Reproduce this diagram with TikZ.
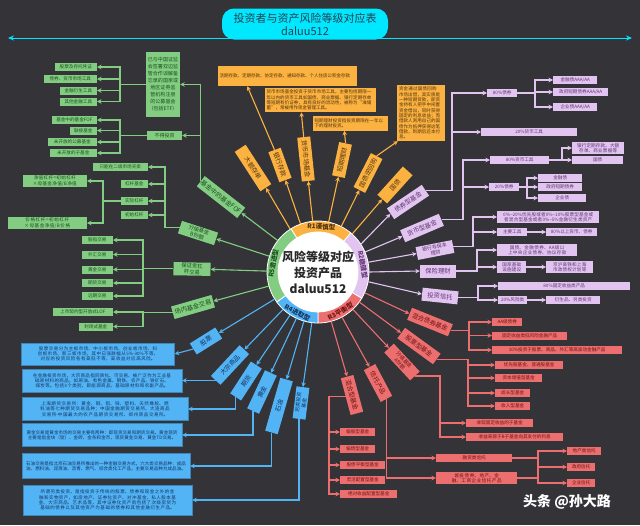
\documentclass[tikz,border=0pt]{standalone}
\usepackage{fontspec}
\setmainfont{Noto Sans CJK SC}
\XeTeXlinebreaklocale "zh"
\XeTeXlinebreakskip=0pt plus 0.3pt
\usetikzlibrary{positioning, arrows.meta}

\definecolor{bgc}{RGB}{51,51,56}
\definecolor{cyanc}{RGB}{0,232,255}
\definecolor{titletx}{RGB}{40,62,82}
\definecolor{hubtx}{RGB}{40,40,40}
\definecolor{oc}{RGB}{251,178,64}
\definecolor{otx}{RGB}{80,50,15}
\definecolor{pc}{RGB}{226,196,240}
\definecolor{ptx}{RGB}{95,55,115}
\definecolor{rc}{RGB}{236,110,110}
\definecolor{rtx}{RGB}{110,20,20}
\definecolor{kc}{RGB}{82,180,245}
\definecolor{ktx}{RGB}{20,50,95}
\definecolor{gc}{RGB}{130,205,130}
\definecolor{gtx}{RGB}{30,80,30}

\begin{document}
\begin{tikzpicture}[x=1pt, y=-1pt,
    lnk/.style={line width=1.1pt, -{Stealth[length=4.5pt, width=4.5pt]}},
    plain/.style={line width=1.1pt},
    spoke/.style={rectangle, inner sep=1pt, minimum height=13pt, align=center,
      font=\fontsize{6.3}{7}\selectfont},
    leaf/.style={rectangle, inner sep=1pt, minimum height=8pt, align=center,
      font=\fontsize{4.6}{5.4}\selectfont},
    note/.style={rectangle, inner sep=2pt, align=left,
      font=\fontsize{4.5}{5.3}\selectfont},
    ringlab/.style={font=\bfseries\fontsize{6.5}{7}\selectfont, inner sep=0pt},
    obox/.style={spoke, fill=oc, text=otx},
    onote/.style={note, fill=oc, text=otx},
    pbox/.style={spoke, fill=pc, text=ptx},
    pleaf/.style={leaf, fill=pc, text=ptx},
    rbox/.style={spoke, fill=rc, text=rtx},
    rleaf/.style={leaf, fill=rc, text=rtx},
    kbox/.style={spoke, fill=kc, text=ktx},
    knote/.style={note, fill=kc, draw=kc!75!black, line width=0.4pt, text=ktx, align=center},
    gbox/.style={spoke, fill=gc, text=gtx},
    gleaf/.style={leaf, fill=gc, text=gtx}
  ]
  \fill[bgc] (0,0) rectangle (640,525);
  \useasboundingbox (0,0) rectangle (640,525);

  % title
  \coordinate (tl) at (8,38);
  \coordinate (tr) at (632,38);
  \draw[line width=1pt, cyanc, {Stealth[length=6pt, width=5pt]}-{Stealth[length=6pt, width=5pt]}] (tl) -- (tr);
  \node[fill=cyanc, rounded corners=12pt, minimum width=166pt, minimum height=31pt, align=center,
    text=titletx, font=\fontsize{11}{13}\selectfont] (title) at (305,24) {投资者与资产风险等级对应表\\daluu512};

  % hub
  \begin{scope}[shift={(318,272)}, y=1pt]
    \foreach \a/\b/\c in {50/122/oc, -31/50/pc, -90/-31/rc, -144/-90/kc, 122/216/gc}
      \filldraw[fill=\c, draw=white, line width=0.8pt] (\a:40) -- (\a:51)
        arc[start angle=\a, end angle=\b, radius=51] -- (\b:40)
        arc[start angle=\b, end angle=\a, radius=40] -- cycle;
    \fill[white] (0,0) circle[radius=40];
    \node[ringlab, text=otx, rotate=-4] (lab1) at (86:45.5) {R1谨慎型};
    \node[ringlab, text=ptx, rotate=-80] (lab2) at (9.5:45.5) {R2稳健型};
    \node[ringlab, text=rtx, rotate=30] (lab3) at (-60.5:45.5) {R3平衡型};
    \node[ringlab, text=ktx, rotate=-27] (lab4) at (-117:45.5) {R4进取型};
    \node[ringlab, text=gtx, rotate=79] (lab5) at (169:45.5) {R5激进型};
  \end{scope}
  \node[circle, minimum size=102pt, inner sep=0pt] (hub) at (318,272) {};
  \node[align=center, inner sep=0pt, text=hubtx,
    font=\bfseries\fontsize{12}{16}\selectfont] (hubtext) at (318,272) {风险等级对应\\投资产品\\daluu512};

  % R1
  \node[obox, minimum width=47pt, rotate=-57] (o1) at (253,168) {大额存单};
  \node[obox, minimum width=32pt, rotate=-70] (o2) at (280,165) {银行存款};
  \node[obox, minimum width=44pt, rotate=-84] (o3) at (306,159) {货币市场基金};
  \node[obox, minimum width=34pt, rotate=78] (o4) at (342,160) {短期理财};
  \node[obox, minimum width=38pt, rotate=63] (o5) at (368,173) {国债逆回购};
  \node[obox, minimum width=38pt, rotate=48] (o6) at (395,185) {国债};
  \foreach \n/\a in {o1/123, o2/110, o3/96}
    \draw[lnk, oc] (hub.\a) -- (\n.east);
  \foreach \n/\a in {o4/78, o5/63, o6/48}
    \draw[lnk, oc] (hub.\a) -- (\n.west);

  \node[onote, text width=135pt, minimum height=20pt] (od1) at (287,76) {活期存款、定期存款、协定存款、通知存款、个人住房公积金存款};
  \node[onote, text width=107pt] (od2) at (320,100) {货币市场基金投资于货币市场工具，主要包括期限一年以内的货币工具如国债、商业票据、银行定期存单等短期有价证券，具有良好的流动性，被称为“准储蓄”，常被用作现金管理工具。};
  \node[onote, text width=71pt, minimum height=15pt] (od3) at (350,123) {短期理财投资指投资期限在一年以下的理财投资。};
  \node[onote, text width=44pt] (od4) at (421,113) {资金通过国债回购市场出借，其实质是一种短期贷款，即资金持有人把手中闲置资金借出，同时获得固定的利息收益；而借款人则用自己的国债作为抵押获得这笔借款，到期后还本付息。};
  \draw[lnk, oc] (o2.west) -- ([xshift=30pt]od1.south west);
  \draw[lnk, oc] (o3.west) -- ([xshift=37pt]od2.south west);
  \draw[lnk, oc] (o4.east) -- ([xshift=32pt]od3.south west);
  \draw[lnk, oc] (o5.east) -- ([xshift=1pt]od4.south west);

  % R2
  \node[pbox, minimum width=42pt, rotate=34] (p1) at (408,202) {债券型基金};
  \node[pbox, minimum width=42pt, rotate=23] (p2) at (422,228) {货币型基金};
  \node[pbox, minimum width=37pt, rotate=11, font=\fontsize{5}{6}\selectfont] (p3) at (435,250) {银行非保本\\理财};
  \node[pbox, minimum width=36pt] (p4) at (438,271) {保险理财};
  \node[pbox, minimum width=36pt, rotate=-6] (p5) at (440,296) {投资信托};
  \foreach \n/\a in {p1/33, p2/23, p3/11, p4/0, p5/-11}
    \draw[lnk, pc] (hub.\a) -- (\n.west);

  \coordinate (pv1) at (452,0);
  \node[pleaf, anchor=west, minimum width=30pt] (pa) at (487,93) {80\%债券};
  \node[pleaf, anchor=west, minimum width=96pt] (pb) at (481,132) {20\%货币工具};
  \draw[lnk, pc] (p1.east) -- (p1.east -| pv1) |- (pa.west);
  \draw[lnk, pc] (p1.east) -- (p1.east -| pv1) |- (pb.west);
  \coordinate (pv2) at (535,0);
  \node[pleaf, anchor=west, minimum width=44pt] (pa1) at (553,80) {金融债AAA/AA};
  \node[pleaf, anchor=west, minimum width=55pt] (pa2) at (553,92) {政府短期债券AAA/AA};
  \node[pleaf, anchor=west, minimum width=44pt] (pa3) at (553,107) {企业债AAA/AA};
  \foreach \i in {1,2,3}
    \draw[lnk, pc] (pa.east) -- (pa.east -| pv2) |- (pa\i.west);

  \coordinate (pv3) at (463,0);
  \node[pleaf, anchor=west, minimum width=59pt] (pc1) at (490,160) {80\%货币工具};
  \node[pleaf, anchor=west, minimum width=30pt] (pc2) at (489,187) {20\%债券};
  \foreach \i in {1,2}
    \draw[lnk, pc] (p2.east) -- (p2.east -| pv3) |- (pc\i.west);
  \coordinate (pv4) at (562,0);
  \node[pleaf, anchor=west, text width=50pt] (pc11) at (572,148) {银行定期存款、大额存单、商业票据等};
  \node[pleaf, anchor=west, minimum width=51pt] (pc12) at (572,160) {国债};
  \foreach \i in {1,2}
    \draw[lnk, pc] (pc1.east) -- (pc1.east -| pv4) |- (pc1\i.west);
  \coordinate (pv5) at (527,0);
  \foreach \txt/\y/\w [count=\i] in {金融债/178/44, 政府短期债券/187/44, 企业债/198/48} {
    \node[pleaf, anchor=west, minimum width=\w pt] (pc2\i) at (538,\y) {\txt};
    \draw[lnk, pc] (pc2.east) -- (pc2.east -| pv5) |- (pc2\i.west);
  }

  \coordinate (pv6) at (473,0);
  \node[pleaf, anchor=west, text width=100pt] (pd1) at (497,217) {0\%{\textasciitilde}20\%优先股或者0\%{\textasciitilde}10\%股票型基金或者混合型基金或者0\%{\textasciitilde}5\%金融衍生类资产};
  \node[pleaf, anchor=west, minimum width=30pt] (pd2) at (497,232) {主要工具};
  \node[pleaf, anchor=west, minimum width=51pt] (pd3) at (546,232) {80\%以上货币、债券};
  \foreach \n in {pd1, pd2}
    \draw[lnk, pc] (p3.east) -- (p3.east -| pv6) |- (\n.west);
  \draw[lnk, pc] (pd2) -- (pd3);

  \coordinate (pv7) at (477,0);
  \node[pleaf, anchor=west, text width=78pt] (pe1) at (497,250) {国债、金融债券、AA级以上中央企业债券、协议存款};
  \node[pleaf, anchor=west, text width=27pt] (pe2) at (497,267) {国家基础设施建设};
  \node[pleaf, anchor=west, text width=45pt] (pe3) at (546,267) {京沪高铁和上海市政债权计划等};
  \foreach \n in {pe1, pe2}
    \draw[lnk, pc] (p4.east) -- (p4.east -| pv7) |- (\n.west);
  \draw[lnk, pc] (pe2) -- (pe3);

  \coordinate (pv8) at (478,0);
  \node[pleaf, anchor=west, minimum width=132pt] (pf1) at (498,286) {80\%固定收益类产品};
  \node[pleaf, anchor=west, minimum width=29pt] (pf2) at (498,300) {20\%风险类};
  \node[pleaf, anchor=west, minimum width=54pt] (pf3) at (546,300) {衍生品、另类投资};
  \foreach \n in {pf1, pf2}
    \draw[lnk, pc] (p5.east) -- (p5.east -| pv8) |- (\n.west);
  \draw[lnk, pc] (pf2) -- (pf3);

  % R3
  \node[rbox, minimum width=44pt, rotate=-22] (r1) at (430,322) {混合债券基金};
  \node[rbox, minimum width=44pt, rotate=-36] (r2) at (419,346) {股票型基金};
  \node[rbox, minimum width=38pt, rotate=-47, font=\fontsize{5}{6}\selectfont] (r3) at (402,362) {分级基金\\A份额};
  \node[rbox, minimum width=36pt, rotate=-62] (r4) at (378,383) {信托产品};
  \node[rbox, minimum width=38pt, rotate=-75] (r5) at (352,395) {混合型基金};
  \foreach \n/\a in {r1/-24, r2/-36, r3/-47, r4/-62, r5/-75}
    \draw[lnk, rc] (hub.\a) -- (\n.west);

  \coordinate (rv1) at (469,0);
  \foreach \txt/\y/\w [count=\i] in {AA级债券/322/30, 固定收益类低风险金融产品/335.5/75, 10\%投资于股票、商品、外汇等高波动金融产品/350/130} {
    \node[rleaf, anchor=west, minimum width=\w pt] (ra\i) at (492,\y) {\txt};
    \draw[lnk, rc] (r1.east) -- (r1.east -| rv1) |- (ra\i.west);
  }
  \coordinate (rv2) at (468,0);
  \foreach \txt/\y/\w [count=\i] in {优先股基金、普通股基金/365/68, 资本增值型基金/378/47, 成长型基金/393/35, 收入型基金/406/35} {
    \node[rleaf, anchor=west, minimum width=\w pt] (rb\i) at (495,\y) {\txt};
    \draw[lnk, rc] (r2.east) -- (r2.east -| rv2) |- (rb\i.west);
  }
  \coordinate (rv3) at (440,0);
  \foreach \txt/\y/\w [count=\i] in {收取固定收益的子基金/423/67, 收益来源于B子基金向其支付的利息/437/97} {
    \node[rleaf, anchor=west, minimum width=\w pt] (rc\i) at (466,\y) {\txt};
    \draw[lnk, rc] (r3.east) -- (r3.east -| rv3) |- (rc\i.west);
  }
  \node[rleaf, anchor=west, minimum width=76pt] (rd1) at (436,458) {融资类信托};
  \node[rleaf, anchor=west, text width=79pt] (rd2) at (436,478) {城投债券、地产、金融、工商企业信托产品};
  \foreach \n in {rd1, rd2}
    \draw[lnk, rc] (r4.east) |- (\n.west);
  \coordinate (rv4) at (538,0);
  \draw[plain, rc] (rd2.east) -- (rd2.east -| rv4);
  \foreach \txt/\y/\w [count=\i] in {地产类信托/451/34, 政府信托/467/28, 企业信托/483/28} {
    \node[rleaf, anchor=west, minimum width=\w pt] (re\i) at (567,\y) {\txt};
    \draw[lnk, rc] (rd1.east) -- (rd1.east -| rv4) |- (re\i.west);
  }
  \coordinate (rv5) at (329,0);
  \foreach \txt/\y/\w [count=\i] in {偏股型基金/432/35, 偏债型基金/449/35, 股债平衡型基金/465/45, 灵活配置型基金/480/45, 绝对收益配置型基金/494/57} {
    \node[rleaf, anchor=west, minimum width=\w pt] (rf\i) at (340,\y) {\txt};
    \draw[lnk, rc] (r5.south) -- (r5.south -| rv5) |- (rf\i.west);
  }

  % R4
  \node[kbox, minimum width=30pt, rotate=32] (k1) at (206,341) {股票};
  \node[kbox, minimum width=42pt, rotate=47] (k2) at (230,365) {大宗商品};
  \node[kbox, minimum width=38pt, rotate=57] (k3) at (246,381) {期货};
  \node[kbox, minimum width=42pt, rotate=65] (k4) at (262,392) {黄金};
  \node[kbox, minimum width=55pt, rotate=74] (k5) at (279,406) {石油};
  \node[kbox, minimum width=32pt, rotate=83, font=\fontsize{5}{6}\selectfont] (k6) at (301,403) {另类投资\\基金};
  \foreach \n/\a in {k1/212, k2/227, k3/237, k4/245, k5/254, k6/263}
    \draw[lnk, kc] (hub.\a) -- (\n.east);

  \node[knote, text width=149pt, minimum height=22pt] (kd1) at (98,354) {股票交易分为主板市场、中小板市场、创业板市场、科创板市场、新三板市场，其中日涨跌幅从5\%-30\%不等，对应的投资风险各有高低不等，高收益对应高风险。};
  \node[knote, text width=156pt, minimum height=23pt] (kd2) at (102,381) {在金融投资市场，大宗商品指同质化、可交易、被广泛作为工业基础原材料的商品，如原油、有色金属、钢铁、农产品、铁矿石、煤炭等。包括3个类别，即能源商品、基础原材料和农副产品。};
  \node[knote, text width=162pt, minimum height=23pt] (kd3) at (105,409) {上海期货交易所：黄金、铜、铝、锌、塑料、天然橡胶、燃料油等七种期货交易品种；中国金融期货交易所、大连商品交易所-中国最大的农产品期货交易所、郑州商品交易所。};
  \node[knote, text width=156pt, minimum height=23pt] (kd4) at (102,435) {黄金交易是黄金市场的交易主要有两种：即现货交易和期货交易。黄金现货主要是指金块（锭）、金砖、金条和金币，现货黄金交易、黄金TD交易。};
  \node[knote, text width=164pt, minimum height=25pt] (kd5) at (106,466) {石油交易是指北京石油交易所推出的一种金融交易方式，六大类交易品种：成品油、燃料油、润滑油、沥青、燃气、综合类化工产品，主要交易品种为成品油。};
  \node[knote, text width=165pt, minimum height=30pt] (kd6) at (107.5,500) {所谓另类投资，是指投资于传统的股票、债券和现金之外的金融和实物资产，如房地产、证券化资产、对冲基金、私人股本基金、大宗商品、艺术品等，其中证券化资产就包括了次级房贷为基础的债券以及其他资产为基础的债券和其他金融衍生产品。};
  \draw[lnk, kc] (k1.west) -- (kd1.east);
  \draw[lnk, kc] (k2.west) -- (k2.west -| kd2.east);
  \foreach \i in {3,4,5,6}
    \draw[lnk, kc] (k\i.west) |- (kd\i.east);

  % R5
  \node[gbox, minimum width=50pt, rotate=-38] (g1) at (221,197) {基金中的基金FOF};
  \node[gbox, minimum width=38pt, rotate=-18, font=\fontsize{5.3}{6.2}\selectfont] (g2) at (198,233) {分级基金\\B份额};
  \node[gbox, minimum width=37pt, rotate=-1, font=\fontsize{5.3}{6.2}\selectfont] (g3) at (192,269) {保证金杠\\杆交易};
  \node[gbox, minimum width=42pt, rotate=16] (g4) at (193,307) {场内基金交易};
  \foreach \n/\a in {g1/142, g2/162, g3/179, g4/196}
    \draw[lnk, gc] (hub.\a) -- (\n.east);

  \node[gleaf, text width=32pt, minimum height=65pt, font=\fontsize{5}{7}\selectfont] (qdii) at (163,84.5) {已与中国证监会签署双边监管合作谅解备忘录的国家或地区证券监管机构注册的公募基金（包括ETF）};
  \node[gleaf, minimum width=35pt, minimum height=9pt, font=\fontsize{5}{6}\selectfont] (nobuy) at (164.5,135.5) {不得投资};
  \draw[lnk, gc] (g1.west) |- (qdii.east);
  \draw[lnk, gc] (g1.west) |- (nobuy.east);
  \coordinate (gv1) at (120,0);
  \foreach \txt/\y/\w [count=\i] in {股票及存托凭证/67/42, 债券、货币市场工具/79/53, 金融衍生工具/90.5/37, 其他金融工具/101.5/37} {
    \node[gleaf, anchor=east, minimum width=\w pt] (qa\i) at (97,\y) {\txt};
    \draw[lnk, gc] (qdii.west) -- (qdii.west -| gv1) |- (qa\i.east);
  }
  \foreach \txt/\y/\w [count=\i] in {基金中的基金FOF/120/45, 联接基金/130.5/27, 未开放的公募基金/142/49, 未开放的子基金/153/47} {
    \node[gleaf, anchor=east, minimum width=\w pt] (qb\i) at (97,\y) {\txt};
    \draw[lnk, gc] (nobuy.west) -- (nobuy.west -| gv1) |- (qb\i.east);
  }

  \coordinate (gv2) at (165,0);
  \foreach \txt/\y/\w [count=\i] in {只能在二级市场买卖/167/55, 杠杆基金/184/27, 实际杠杆/201/27, 初始杠杆/215/27} {
    \node[gleaf, anchor=east, minimum width=\w pt] (gb\i) at (148,\y) {\txt};
    \draw[lnk, gc] (g2.west) -- (g2.west -| gv2) |- (gb\i.east);
  }
  \coordinate (gv3) at (103,0);
  \node[gleaf, anchor=east, text width=62pt] (gc1) at (87,181) {净值杠杆=初始杠杆×母基金净值/B净值};
  \node[gleaf, anchor=east, text width=77pt] (gc2) at (87,223) {价格杠杆=初始杠杆×母基金净值/B价格};
  \foreach \i in {1,2}
    \draw[lnk, gc] (gb3.west) -- (gb3.west -| gv3) |- (gc\i.east);

  \coordinate (gv4) at (143,0);
  \foreach \txt/\y [count=\i] in {股指交易/240, 外汇交易/254.5, 黄金交易/269.5, 期货交易/283, 远期交易/296} {
    \node[gleaf, anchor=east, minimum width=31pt] (gd\i) at (113,\y) {\txt};
    \draw[lnk, gc] (g3.west) -- (g3.west -| gv4) |- (gd\i.east);
  }
  \foreach \txt/\y/\w [count=\i] in {上市契约型开放式LOF/312/60, 封闭式基金/326.5/34} {
    \node[gleaf, anchor=east, minimum width=\w pt] (ge\i) at (113,\y) {\txt};
    \draw[lnk, gc] (g4.west) -- (g4.west -| gv4) |- (ge\i.east);
  }

  \node[text=white, font=\bfseries\fontsize{14}{16}\selectfont] (mark) at (567,502) {头条 @孙大路};
\end{tikzpicture}
\end{document}
